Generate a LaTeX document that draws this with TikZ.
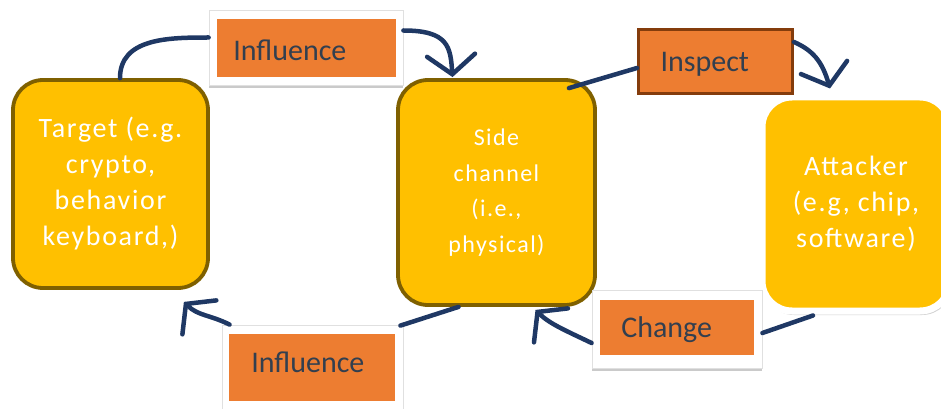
\documentclass[tikz,border=0pt]{standalone}
\usepackage{fontspec}
\setmainfont{Carlito}
\newfontfamily\boxfont[LetterSpace=6]{Carlito}
\usetikzlibrary{arrows.meta,shadows,calc}
\definecolor{gold}{HTML}{FFC000}
\definecolor{olive}{HTML}{7F6000}
\definecolor{orng}{HTML}{ED7D31}
\definecolor{rust}{HTML}{843C0C}
\definecolor{navy}{HTML}{1F3864}
\definecolor{ink}{HTML}{323F4F}
\begin{document}
\begin{tikzpicture}[x=1pt,y=-1pt,
  stage/.style={rounded corners=30pt,fill=gold,draw=olive,line width=3.8pt,
    text=white,align=center,font=\boxfont\fontsize{28}{36}\selectfont},
  frame/.style={fill=white,draw=black!12,line width=0.8pt,
    drop shadow={shadow xshift=0pt,shadow yshift=-3pt,opacity=0.35,fill=black!60}},
  tag/.style={fill=orng,draw=none},
  tagtext/.style={anchor=west,text=ink,font=\fontsize{30}{34}\selectfont},
  flow/.style={draw=navy,line width=4.5pt,line cap=round},
  tip/.style={-{Straight Barb[length=19pt,width=48pt,line cap=round]}}
]
\useasboundingbox (0,0) rectangle (941,409);

% the three stages of the loop
\node[stage,minimum width=195pt,minimum height=208pt] (target) at (110.5,184)
  {Target (e.g.\\crypto,\\behavior\\keyboard,)};
\node[stage,minimum width=197pt,minimum height=225pt,
  font=\boxfont\fontsize{24}{35.5}\selectfont] (side) at (496.5,192.5)
  {Side\\channel\\(i.e.,\\physical)};
\node[stage,draw=white,line width=7pt,minimum width=188pt,minimum height=214pt,
  drop shadow={shadow xshift=2pt,shadow yshift=-4pt,opacity=0.3,fill=black!60}]
  (attacker) at (856,204) {Attacker\\(e.g, chip,\\software)};

% label boxes on the connectors
\node[frame,minimum width=194pt,minimum height=75pt] (inf1) at (306,47.5) {};
\node[tag,minimum width=179pt,minimum height=58pt] (inf1in) at (306.5,48) {};
\node[tagtext] (inf1t) at ($(inf1in.west)+(13,2)$) {Influence};

\node[tag,draw=rust,line width=3pt,minimum width=154pt,minimum height=64pt] (insp) at (715.5,62) {};
\node[tagtext] (inspt) at ($(insp.west)+(20,2)$) {Inspect};

\node[frame,minimum width=181pt,minimum height=84pt] (inf2) at (312.5,367) {};
\node[tag,minimum width=166pt,minimum height=67pt] (inf2in) at (312,367.5) {};
\node[tagtext] (inf2t) at ($(inf2in.west)+(19,-5)$) {Influence};

\node[frame,minimum width=170pt,minimum height=78pt] (chg) at (677,329) {};
\node[tag,minimum width=154pt,minimum height=55pt] (chgin) at (677,327.5) {};
\node[tagtext] (chgt) at ($(chgin.west)+(18,2)$) {Change};

% connector ends on the stage boxes
\coordinate (tgtTop) at ($(target.north)+(9.5,0)$);
\coordinate (sideTop) at ($(side.north)+(-44,-1)$);
\coordinate (sideNE) at ($(side.north east)+(-28,10)$);
\coordinate (atkTop) at ($(attacker.north)+(-26,-5)$);
\coordinate (atkBot) at ($(attacker.south)+(-43,1)$);
\coordinate (sideBotR) at ($(side.south)+(39,3)$);
\coordinate (sideBotL) at ($(side.south)+(-38,0)$);
\coordinate (tgtBot) at ($(target.south east)+(-26,12)$);

% Target -> Side channel
\draw[flow] (tgtTop) .. controls +(0,-40) and +(-40,0) .. ($(inf1.west)+(0,-10)$);
\draw[flow,tip] ($(inf1.east)+(0,-17)$) .. controls +(45,0) and +(-2,-30) .. (sideTop);

% Side channel -> Attacker
\draw[flow] (sideNE) -- ($(insp.west)+(0,6)$);
\draw[flow,tip] ($(insp.east)+(0,-20)$) .. controls +(18,8) and +(-8,-28) .. (atkTop);

% Attacker -> Side channel
\draw[flow] (atkBot) -- ($(chg.east)+(0,4)$);
\draw[flow,tip] ($(chg.west)+(0,14)$) .. controls +(-25,-12) and +(14,14) .. (sideBotR);

% Side channel -> Target
\draw[flow] (sideBotL) -- ($(inf2.north east)+(-3,1)$);
\draw[flow,tip] ($(inf2.north west)+(8,0)$) .. controls +(-20,-10) and +(14,14) .. (tgtBot);
\end{tikzpicture}
\end{document}
